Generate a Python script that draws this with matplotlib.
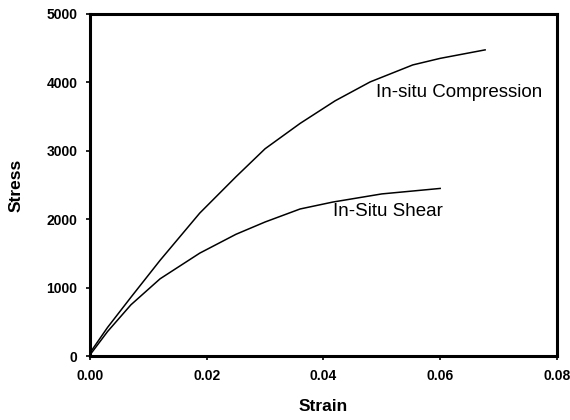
import matplotlib
matplotlib.use('Agg')
import matplotlib.pyplot as plt

# data
comp_strain = [0.0, 0.003, 0.007, 0.012, 0.0188, 0.025, 0.030, 0.036, 0.042, 0.048, 0.0553, 0.060, 0.0677]
comp_stress = [50, 420, 860, 1400, 2090, 2620, 3030, 3400, 3730, 4006, 4254, 4350, 4474]
shear_strain = [0.0, 0.003, 0.007, 0.012, 0.0188, 0.025, 0.030, 0.036, 0.0416, 0.050, 0.060]
shear_stress = [20, 360, 750, 1130, 1505, 1780, 1960, 2150, 2251, 2370, 2450]

plt.rcParams['font.family'] = ['Liberation Sans', 'DejaVu Sans']

fig = plt.figure(figsize=(5.7, 4.2), dpi=100)
ax = fig.add_axes([0.158, 0.152, 0.819, 0.815])

ax.plot(comp_strain, comp_stress, color='black', linewidth=1.1)
ax.plot(shear_strain, shear_stress, color='black', linewidth=1.1)

ax.text(0.0490, 3850, 'In-situ Compression', fontsize=13.5, ha='left', va='center')
ax.text(0.0416, 2110, 'In-Situ Shear', fontsize=13.5, ha='left', va='center')

ax.set_xlim(0, 0.08)
ax.set_ylim(0, 5000)
ax.set_xticks([0.0, 0.02, 0.04, 0.06, 0.08])
ax.set_xticklabels(['0.00', '0.02', '0.04', '0.06', '0.08'])
ax.set_yticks([0, 1000, 2000, 3000, 4000, 5000])

for s in ax.spines.values():
    s.set_linewidth(2.2)
ax.tick_params(direction='out', length=3, width=1.2, labelsize=10)
ax.tick_params(axis='x', pad=6.5)
ax.tick_params(axis='y', pad=6)
for lab in ax.get_xticklabels() + ax.get_yticklabels():
    lab.set_fontweight('bold')

ax.set_xlabel('Strain', fontsize=12.5, fontweight='bold')
ax.set_ylabel('Stress', fontsize=12.5, fontweight='bold')
ax.xaxis.set_label_coords(0.499, -0.124)
ax.yaxis.set_label_coords(-0.143, 0.5)

fig.savefig('out.png', dpi=100)
